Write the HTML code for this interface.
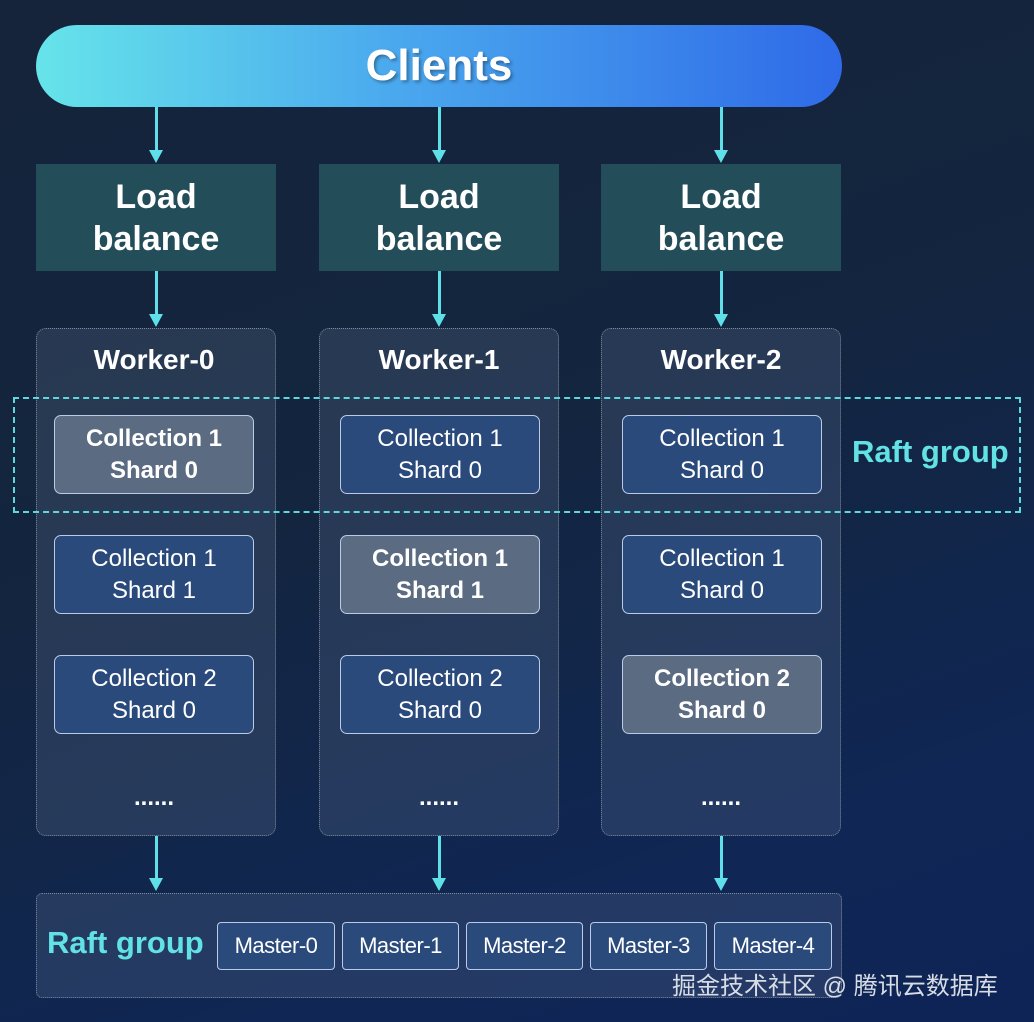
<!DOCTYPE html>
<html><head><meta charset="utf-8"><style>
*{margin:0;padding:0;box-sizing:border-box}
body{width:1034px;height:1022px;overflow:hidden;position:relative;font-family:"Liberation Sans","Noto Sans CJK SC",sans-serif;color:#fff;
background:linear-gradient(160deg,#15243a 0%,#13253f 45%,#102654 80%,#0e2456 100%)}
.a{position:absolute}
.c{display:flex;align-items:center;justify-content:center;text-align:center}
.lb{background:#244d5a;font-weight:bold;font-size:34px;line-height:42px;top:164px;height:107px;width:240px}
.wk{top:328px;height:508px;width:240px;border:1.5px dotted #7d8898;border-radius:10px;background:rgba(120,140,170,0.2)}
.wt{font-weight:bold;font-size:28px;width:240px;top:344px}
.cb{width:200px;height:79px;border:1.2px solid #b9cbe6;border-radius:7px;background:#2a4a7c;font-size:24px;line-height:32px}
.hl{background:#5b6b82;font-weight:bold}
.dots{font-size:24px;font-weight:bold;width:240px;top:784px}
.ar{width:3px;background:#5fe0e8}
.ah{width:0;height:0;border-left:7px solid transparent;border-right:7px solid transparent;border-top:13px solid #5fe0e8}
.ms{top:922px;height:48px;border:1.2px solid #b9cbe6;border-radius:4px;background:#2a4a7c;font-size:22px;letter-spacing:-0.5px}
</style></head><body>
<div class="a c" style="left:36px;top:25px;width:806px;height:82px;border-radius:41px;background:linear-gradient(90deg,#66e4ea 0%,#4aa8ee 45%,#2f6ae8 100%);font-weight:bold;font-size:44px;text-shadow:2px 2px 3px rgba(0,0,0,0.35)">Clients</div>

<div class="a ar" style="left:155px;top:107px;height:44px"></div><div class="a ah" style="left:149px;top:150px"></div>
<div class="a ar" style="left:438px;top:107px;height:44px"></div><div class="a ah" style="left:432px;top:150px"></div>
<div class="a ar" style="left:720px;top:107px;height:44px"></div><div class="a ah" style="left:714px;top:150px"></div>

<div class="a c lb" style="left:36px">Load<br>balance</div>
<div class="a c lb" style="left:319px">Load<br>balance</div>
<div class="a c lb" style="left:601px">Load<br>balance</div>

<div class="a ar" style="left:155px;top:271px;height:44px"></div><div class="a ah" style="left:149px;top:314px"></div>
<div class="a ar" style="left:438px;top:271px;height:44px"></div><div class="a ah" style="left:432px;top:314px"></div>
<div class="a ar" style="left:720px;top:271px;height:44px"></div><div class="a ah" style="left:714px;top:314px"></div>

<div class="a wk" style="left:36px"></div>
<div class="a wk" style="left:319px"></div>
<div class="a wk" style="left:601px"></div>
<div class="a wt c" style="left:34px">Worker-0</div>
<div class="a wt c" style="left:319px">Worker-1</div>
<div class="a wt c" style="left:601px">Worker-2</div>

<div class="a c cb hl" style="left:54px;top:415px">Collection 1<br>Shard 0</div>
<div class="a c cb" style="left:54px;top:535px">Collection 1<br>Shard 1</div>
<div class="a c cb" style="left:54px;top:655px">Collection 2<br>Shard 0</div>
<div class="a c cb" style="left:340px;top:415px">Collection 1<br>Shard 0</div>
<div class="a c cb hl" style="left:340px;top:535px">Collection 1<br>Shard 1</div>
<div class="a c cb" style="left:340px;top:655px">Collection 2<br>Shard 0</div>
<div class="a c cb" style="left:622px;top:415px">Collection 1<br>Shard 0</div>
<div class="a c cb" style="left:622px;top:535px">Collection 1<br>Shard 0</div>
<div class="a c cb hl" style="left:622px;top:655px">Collection 2<br>Shard 0</div>

<div class="a dots c" style="left:34px">......</div>
<div class="a dots c" style="left:319px">......</div>
<div class="a dots c" style="left:601px">......</div>

<div class="a" style="left:13px;top:397px;width:1008px;height:116px;border:2px dashed #5ed8dc"></div>
<div class="a" style="left:852px;top:434px;font-weight:bold;font-size:31px;color:#62e2e4;white-space:nowrap">Raft group</div>

<div class="a ar" style="left:155px;top:836px;height:42px"></div><div class="a ah" style="left:149px;top:878px"></div>
<div class="a ar" style="left:438px;top:836px;height:42px"></div><div class="a ah" style="left:432px;top:878px"></div>
<div class="a ar" style="left:720px;top:836px;height:42px"></div><div class="a ah" style="left:714px;top:878px"></div>

<div class="a" style="left:36px;top:893px;width:806px;height:105px;border:1.5px dotted #7d8898;border-radius:6px;background:rgba(120,140,170,0.2)"></div>
<div class="a" style="left:47px;top:925px;font-weight:bold;font-size:31px;color:#62e2e4;white-space:nowrap">Raft group</div>
<div class="a c ms" style="left:217px;width:118px">Master-0</div>
<div class="a c ms hl" style="left:342px;width:117px;font-weight:normal">Master-1</div>
<div class="a c ms" style="left:466px;width:117px">Master-2</div>
<div class="a c ms" style="left:590px;width:117px">Master-3</div>
<div class="a c ms hl" style="left:714px;width:118px;font-weight:normal">Master-4</div>
<div class="a" style="left:672px;top:966px;font-size:24px;color:#d8dde5;white-space:nowrap">掘金技术社区 @ 腾讯云数据库</div>
</body></html>
